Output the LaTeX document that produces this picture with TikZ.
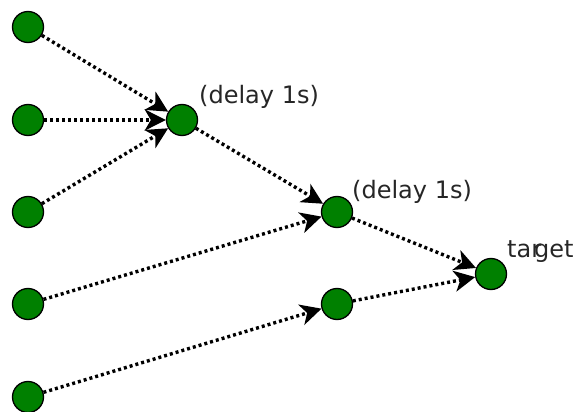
\documentclass[tikz,border=0pt]{standalone}
\usepackage{fontspec}
\setmainfont{DejaVu Sans}
\usetikzlibrary{arrows.meta,calc}
\begin{document}
\begin{tikzpicture}[x=1pt,y=-1pt,
  neuron/.style={circle,draw=black,line width=1.3pt,fill=green!50!black,minimum size=31pt,inner sep=0pt},
  link/.style={line width=3.4pt,dash pattern=on 3pt off 3pt,
    -{Stealth[length=21pt,width=21pt,inset=6pt]}},
  tag/.style={anchor=base west,inner sep=0pt,font=\fontsize{24}{28}\selectfont,text=black!85}]
\useasboundingbox (0,0) rectangle (574,412);
% input layer
\node[neuron] (i1) at (28,27) {};
\node[neuron] (i2) at (28,120) {};
\node[neuron] (i3) at (28,212) {};
\node[neuron] (i4) at (28,304) {};
\node[neuron] (i5) at (28,397) {};
% hidden nodes
\node[neuron] (h1) at (182,120) {};
\node[neuron] (h2) at (337,212) {};
\node[neuron] (h3) at (337,304) {};
% output node
\node[neuron] (t) at (491,274) {};
% labels
\node[tag] (l1) at ($(h1)+(17,-16)$) {(delay 1s)};
\node[tag] (l2) at ($(h2)+(15,-14)$) {(delay 1s)};
\node[tag] (l3) at ($(t)+(16,-16)$) {tar\kern-7pt get};
% connections
\draw[link] (i1) -- (h1);
\draw[link] (i2) -- (h1);
\draw[link] (i3) -- (h1);
\draw[link] (i4) -- (h2);
\draw[link] (i5) -- (h3);
\draw[link] (h1) -- (h2);
\draw[link] (h2) -- (t);
\draw[link] (h3) -- (t);
\end{tikzpicture}
\end{document}
